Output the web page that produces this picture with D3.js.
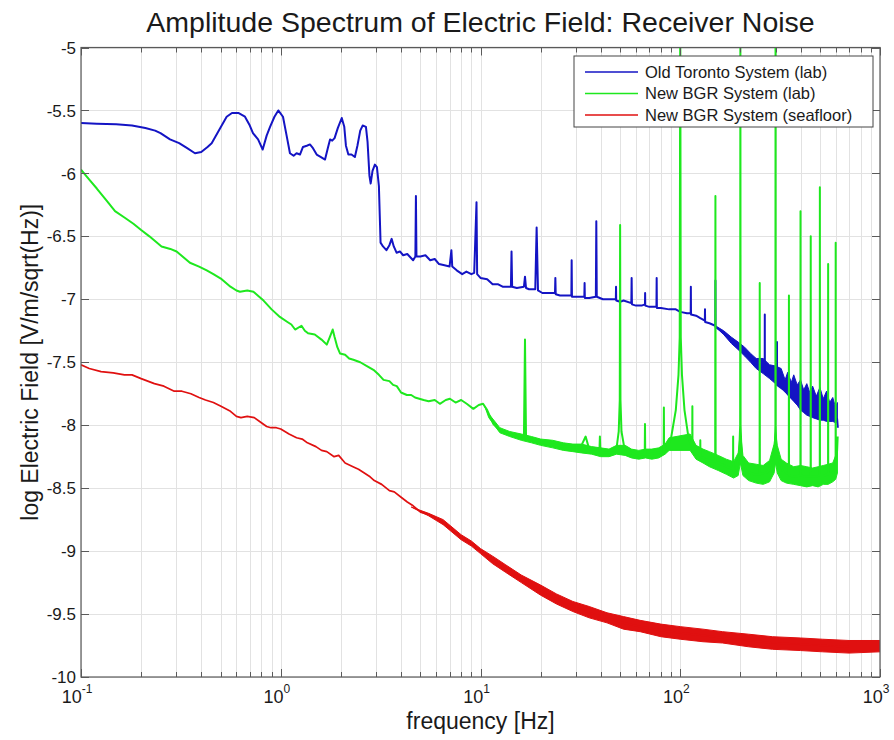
<!DOCTYPE html>
<html>
<head>
<meta charset="utf-8">
<script src="https://cdn.jsdelivr.net/npm/d3@7"></script>
<style>
  body { margin: 0; background: #fff; }
  text { font-family: "Liberation Sans", Arial, sans-serif; fill: #1a1a1a; }
</style>
</head>
<body>
<script>
// axis settings
var xDomain = [0.1, 1000];
var yDomain = [-10, -5];
var xDecades = [-1, 0, 1, 2, 3];
var yTicks = [-10, -9.5, -9, -8.5, -8, -7.5, -7, -6.5, -6, -5.5, -5];

var titleText = "Amplitude Spectrum of Electric Field: Receiver Noise";
var xLabel = "frequency [Hz]";
var yLabel = "log Electric Field [V/m/sqrt(Hz)]";
var seriesNames = ["Old Toronto System (lab)", "New BGR System (lab)", "New BGR System (seafloor)"];
var seriesColors = ["#1414c4", "#1ee81e", "#e01010"];

// Old Toronto System (lab): [freq, log E]
var torontoLine = [
  [0.1,-5.60],[0.12,-5.605],[0.15,-5.61],[0.18,-5.62],[0.21,-5.64],[0.235,-5.66],[0.25,-5.68],[0.279,-5.73],
  [0.31,-5.76],[0.34,-5.80],[0.372,-5.84],[0.40,-5.83],[0.43,-5.79],[0.451,-5.76],[0.49,-5.66],[0.536,-5.55],
  [0.57,-5.52],[0.613,-5.52],[0.662,-5.55],[0.70,-5.62],[0.726,-5.68],[0.77,-5.73],[0.812,-5.81],[0.85,-5.70],
  [0.884,-5.63],[0.93,-5.55],[0.972,-5.50],[1.026,-5.55],[1.07,-5.70],[1.112,-5.84],[1.16,-5.86],[1.20,-5.84],
  [1.248,-5.85],[1.292,-5.79],[1.35,-5.78],[1.40,-5.77],[1.45,-5.80],[1.513,-5.85],[1.59,-5.87],[1.666,-5.89],
  [1.72,-5.80],[1.765,-5.73],[1.81,-5.74],[1.86,-5.72],[1.93,-5.64],[2.02,-5.56],[2.08,-5.63],[2.12,-5.78],
  [2.18,-5.85],[2.26,-5.85],[2.35,-5.87],[2.42,-5.78],[2.50,-5.66],[2.57,-5.62],[2.67,-5.63],[2.72,-5.75],
  [2.78,-6.02],[2.82,-6.08],[2.88,-5.98],[2.96,-5.93],[3.03,-5.95],[3.10,-6.10],[3.16,-6.55],[3.25,-6.58],
  [3.38,-6.61],[3.5,-6.57],[3.59,-6.52],[3.68,-6.58],[3.8,-6.63],[3.95,-6.62],[4.1,-6.65],[4.3,-6.64],
  [4.6,-6.69],[4.72,-6.66],[4.75,-6.18],[4.78,-6.66],[5.0,-6.66],[5.3,-6.65],[5.6,-6.69],[5.9,-6.68],
  [6.2,-6.72],[6.6,-6.73],[7.0,-6.74],[7.15,-6.61],[7.22,-6.74],[7.6,-6.77],[8.1,-6.80],[8.5,-6.78],
  [9.0,-6.80],[9.3,-6.79],[9.55,-6.23],[9.62,-6.80],[10.0,-6.83],[10.8,-6.84],[11.5,-6.88],[12.2,-6.88],
  [12.9,-6.90],[14.2,-6.90],[14.3,-6.62],[14.4,-6.90],[15.2,-6.91],[16.5,-6.90],[16.7,-6.82],[16.9,-6.91],
  [17.5,-6.92],[18.8,-6.92],[19.1,-6.43],[19.4,-6.93],[20.4,-6.95],[22,-6.95],[23.6,-6.95],[23.7,-6.83],
  [23.8,-6.96],[25,-6.97],[27,-6.97],[28.5,-6.97],[28.6,-6.69],[28.7,-6.98],[30,-6.98],[33.1,-6.98],
  [33.2,-6.87],[33.3,-6.99],[35,-6.99],[37.8,-6.98],[38,-6.38],[38.2,-6.98],[41,-7.00],[44,-7.00],
  [47.6,-7.00],[47.7,-6.90],[47.8,-7.01],[50,-7.02],[52,-7.01],[56.9,-7.03],[57.1,-6.83],[57.3,-7.04],
  [60,-7.05],[64,-7.05],[66.6,-7.04],[66.7,-6.95],[66.8,-7.05],[70,-7.06],[76,-7.06],[76.2,-6.83],
  [76.4,-7.07],[80,-7.07],[88,-7.08],[95,-7.08],[100,-7.10],[108,-7.11],[112.8,-7.11],[113,-6.90],
  [113.2,-7.12],[120,-7.13],[126,-7.15],[132.8,-7.17],[133,-7.08],[133.2,-7.18],[140,-7.19],[149.8,-7.21],
  [150,-6.85],[150.2,-7.22],[160,-7.25],[170,-7.29],[180,-7.33],[190,-7.36],[200,-7.40],[210,-7.42],
  [220,-7.45],[235,-7.49],[250,-7.54],[264.8,-7.56],[265,-7.12],[265.2,-7.58],[280,-7.60],[304.8,-7.66],
  [305,-7.34],[305.2,-7.68],[330,-7.72],[350,-7.76],[370,-7.80],[400,-7.86],[425,-7.90],[460,-7.92],
  [500,-7.93],[536,-7.94],[580,-7.94],[610,-7.95],[615,-8.02]
];
// thick noisy part: [freq, lower, upper]
var torontoBand = [
  [150,-7.22,-7.21],[165,-7.28,-7.25],[180,-7.35,-7.30],[195,-7.40,-7.34],[210,-7.45,-7.38],[225,-7.50,-7.43],
  [240,-7.55,-7.47],[260,-7.59,-7.47],[280,-7.63,-7.52],[300,-7.67,-7.53],[320,-7.70,-7.55],[335,-7.73,-7.64],
  [345,-7.76,-7.58],[360,-7.79,-7.66],[370,-7.81,-7.60],[385,-7.84,-7.68],[400,-7.88,-7.64],[415,-7.90,-7.72],
  [430,-7.92,-7.67],[445,-7.93,-7.74],[460,-7.94,-7.69],[480,-7.95,-7.77],[500,-7.96,-7.70],[520,-7.96,-7.79],
  [540,-7.97,-7.73],[560,-7.97,-7.82],[580,-7.97,-7.78],[600,-7.98,-7.86],[612,-7.98,-7.82]
];

// New BGR System (lab)
var bgrLabLine = [
  [0.1,-5.97],[0.11,-6.05],[0.12,-6.12],[0.135,-6.22],[0.148,-6.30],[0.165,-6.35],[0.183,-6.40],[0.2,-6.45],
  [0.22,-6.50],[0.253,-6.58],[0.28,-6.60],[0.301,-6.62],[0.351,-6.71],[0.39,-6.74],[0.426,-6.77],[0.46,-6.80],
  [0.506,-6.84],[0.56,-6.90],[0.6,-6.93],[0.625,-6.94],[0.68,-6.93],[0.73,-6.94],[0.78,-6.98],[0.82,-7.01],
  [0.9,-7.08],[0.99,-7.14],[1.08,-7.18],[1.13,-7.20],[1.18,-7.24],[1.27,-7.21],[1.32,-7.25],[1.37,-7.27],
  [1.48,-7.28],[1.60,-7.32],[1.70,-7.36],[1.76,-7.30],[1.82,-7.24],[1.86,-7.30],[1.92,-7.38],[1.98,-7.43],
  [2.1,-7.44],[2.2,-7.47],[2.31,-7.48],[2.5,-7.50],[2.7,-7.53],[2.91,-7.56],[3.1,-7.60],[3.27,-7.64],
  [3.5,-7.65],[3.65,-7.68],[3.81,-7.69],[4.0,-7.74],[4.28,-7.76],[4.5,-7.76],[4.7,-7.78],[5.19,-7.80],
  [5.5,-7.81],[5.9,-7.80],[6.26,-7.83],[6.7,-7.80],[7.03,-7.79],[7.5,-7.82],[8.0,-7.80],[8.53,-7.83],
  [9.21,-7.87],[9.8,-7.84],[10.3,-7.83],[10.8,-7.88],[11.6,-7.99],[12.5,-8.04],[13.4,-8.06],[14.5,-8.08],
  [16.5,-8.09],[16.7,-7.32],[16.9,-8.10],[19.8,-8.13],[22,-8.15],[26.1,-8.17],[31.6,-8.18],[33.6,-8.09],
  [35,-8.19],[39.4,-8.20],[39.6,-8.09],[39.8,-8.21],[46.4,-8.22],[48,-8.18],[49.2,-8.05],[49.8,-7.80],
  [50,-6.41],[50.2,-7.80],[50.8,-8.05],[52.5,-8.18],[57,-8.22],[60,-8.24],[66.4,-8.23],[66.6,-7.99],
  [66.8,-8.23],[70,-8.23],[76,-8.22],[82.6,-8.21],[82.8,-7.86],[83,-8.20],[86,-8.17],[90,-8.10],
  [95,-7.88],[98,-7.60],[99.4,-7.30],[100,-4.6],[100.6,-7.30],[102,-7.60],[105,-7.88],[110,-8.10],
  [114.8,-8.18],[115,-7.85],[115.2,-8.20],[120,-8.21],[125.8,-8.24],[126,-8.12],[126.2,-8.25],[134,-8.27],
  [145,-8.29],[149.6,-8.28],[150,-6.18],[150.4,-8.29],[166,-8.32],[183.8,-8.35],[184,-8.09],[184.2,-8.36],
  [190,-8.36],[197,-8.25],[199.5,-8.00],[200,-4.6],[200.5,-8.00],[203,-8.25],[215,-8.37],[235,-8.39],
  [249.6,-8.39],[250,-6.87],[250.4,-8.39],[275,-8.37],[297,-8.22],[299.5,-8.00],[300,-4.6],[300.5,-8.00],
  [303,-8.22],[325,-8.36],[349.6,-8.39],[350,-6.97],[350.4,-8.40],[375,-8.41],[399.5,-8.40],[400,-6.30],
  [400.5,-8.40],[425,-8.41],[449.5,-8.41],[450,-6.50],[450.5,-8.41],[475,-8.41],[499.5,-8.40],[500,-6.11],
  [500.5,-8.40],[525,-8.40],[549.5,-8.39],[550,-6.72],[550.5,-8.39],[575,-8.38],[599.5,-8.35],[600,-6.55],
  [600.5,-8.33],[610,-8.20],[614,-8.09]
];
var bgrLabBand = [
  [10.5,-7.85,-7.85],[11,-7.94,-7.91],[12.5,-8.06,-8.02],[14,-8.09,-8.05],[16,-8.12,-8.07],[18,-8.14,-8.09],
  [20,-8.16,-8.11],[23,-8.18,-8.12],[26,-8.20,-8.14],[29,-8.21,-8.15],[32,-8.22,-8.15],[36,-8.23,-8.17],
  [40,-8.25,-8.18],[44,-8.25,-8.19],[48,-8.23,-8.16],[53,-8.24,-8.16],[57,-8.26,-8.19],[62,-8.27,-8.20],
  [67,-8.26,-8.19],[72,-8.27,-8.19],[78,-8.26,-8.18],[84,-8.23,-8.15],[88,-8.20,-8.10],[112,-8.20,-8.07],
  [120,-8.27,-8.16],[130,-8.30,-8.19],[140,-8.33,-8.21],[155,-8.36,-8.24],[170,-8.39,-8.27],[185,-8.42,-8.29],
  [195,-8.40,-8.22],[200,-8.30,-8.05],[206,-8.40,-8.24],[220,-8.44,-8.30],[240,-8.46,-8.31],[260,-8.47,-8.32],
  [280,-8.45,-8.28],[295,-8.38,-8.15],[300,-8.30,-8.05],[306,-8.38,-8.16],[320,-8.44,-8.27],[340,-8.46,-8.30],
  [370,-8.47,-8.33],[400,-8.48,-8.32],[430,-8.49,-8.33],[460,-8.48,-8.34],[490,-8.49,-8.33],[520,-8.47,-8.32],
  [550,-8.47,-8.31],[580,-8.45,-8.30],[600,-8.43,-8.24],[612,-8.38,-8.10]
];

// New BGR System (seafloor)
var bgrSeaLine = [
  [0.1,-7.52],[0.11,-7.55],[0.126,-7.575],[0.145,-7.585],[0.165,-7.60],[0.18,-7.60],[0.2,-7.63],[0.233,-7.67],
  [0.26,-7.69],[0.293,-7.73],[0.32,-7.73],[0.355,-7.75],[0.39,-7.78],[0.42,-7.80],[0.46,-7.82],[0.502,-7.85],
  [0.56,-7.89],[0.6,-7.93],[0.632,-7.94],[0.68,-7.93],[0.737,-7.94],[0.8,-7.98],[0.85,-8.01],[0.893,-8.02],
  [0.95,-8.02],[1.0,-8.03],[1.1,-8.07],[1.2,-8.10],[1.28,-8.11],[1.36,-8.14],[1.5,-8.17],[1.6,-8.20],
  [1.7,-8.21],[1.85,-8.25],[1.95,-8.24],[2.1,-8.30],[2.3,-8.33],[2.45,-8.35],[2.62,-8.38],[2.8,-8.41],
  [2.94,-8.44],[3.2,-8.47],[3.5,-8.52],[3.7,-8.53],[3.99,-8.57],[4.3,-8.61],[4.6,-8.64],[5.01,-8.69],
  [5.5,-8.71],[6.0,-8.74],[6.55,-8.77],[7.2,-8.82],[8.0,-8.89],[9,-8.94],[10,-9.00],[11.5,-9.07],
  [13.4,-9.14],[16,-9.22],[19.8,-9.31],[24,-9.38],[29,-9.44],[35,-9.49],[42.7,-9.53],[52,-9.57],
  [62.9,-9.60],[80,-9.63],[100,-9.65],[130,-9.67],[163,-9.69],[220,-9.71],[290,-9.73],[400,-9.74],
  [516,-9.75],[700,-9.76],[1000,-9.76]
];
var bgrSeaBand = [
  [4.5,-8.65,-8.65],[5.5,-8.72,-8.70],[6.5,-8.79,-8.75],[8,-8.91,-8.87],[9,-8.96,-8.92],[10,-9.02,-8.98],
  [11.5,-9.10,-9.04],[13.4,-9.17,-9.11],[16,-9.25,-9.19],[20,-9.35,-9.27],[24,-9.42,-9.34],[29,-9.48,-9.40],
  [35,-9.53,-9.44],[43,-9.57,-9.49],[52,-9.62,-9.52],[63,-9.64,-9.55],[80,-9.68,-9.58],[100,-9.70,-9.60],
  [130,-9.72,-9.62],[163,-9.73,-9.64],[220,-9.76,-9.66],[290,-9.78,-9.68],[400,-9.79,-9.69],[516,-9.80,-9.70],
  [700,-9.81,-9.71],[1000,-9.80,-9.71]
];

var seriesLines = [torontoLine, bgrLabLine, bgrSeaLine];
var seriesBands = [torontoBand, bgrLabBand, bgrSeaBand];
var seriesWidths = [2, 2, 1.7];

var width = 894, height = 740;
var pLeft = 81, pRight = 880, pTop = 47.5, pBottom = 677;

var svg = d3.select("body").append("svg")
  .attr("width", width)
  .attr("height", height);

var x = d3.scaleLog().domain(xDomain).range([pLeft, pRight]);
var y = d3.scaleLinear().domain(yDomain).range([pBottom, pTop]);

// minor positions: 1..9 in every decade
var xMinor = [];
xDecades.slice(0, -1).forEach(function(e) {
  for (var k = 1; k <= 9; k++) xMinor.push(k * Math.pow(10, e));
});
xMinor.push(1000);

/* grid */
var grid = svg.append("g").attr("class", "grid");
grid.selectAll("line.gx")
  .data(xMinor)
  .enter().append("line")
    .attr("class", "gx")
    .attr("x1", function(d) { return Math.round(x(d)) + 0.5; })
    .attr("x2", function(d) { return Math.round(x(d)) + 0.5; })
    .attr("y1", pTop)
    .attr("y2", pBottom)
    .style("stroke", "#e2e2e2")
    .style("stroke-width", 1);
grid.selectAll("line.gy")
  .data(yTicks)
  .enter().append("line")
    .attr("class", "gy")
    .attr("x1", pLeft)
    .attr("x2", pRight)
    .attr("y1", function(d) { return Math.round(y(d)) + 0.5; })
    .attr("y2", function(d) { return Math.round(y(d)) + 0.5; })
    .style("stroke", "#e2e2e2")
    .style("stroke-width", 1);

/* data */
svg.append("clipPath")
  .attr("id", "plotclip")
  .append("rect")
    .attr("x", pLeft)
    .attr("y", pTop)
    .attr("width", pRight - pLeft)
    .attr("height", pBottom - pTop);

var plot = svg.append("g").attr("clip-path", "url(#plotclip)");

var line = d3.line()
  .x(function(d) { return x(d[0]); })
  .y(function(d) { return y(d[1]); });

var band = d3.area()
  .x(function(d) { return x(d[0]); })
  .y0(function(d) { return y(d[1]); })
  .y1(function(d) { return y(d[2]); });

seriesLines.forEach(function(data, i) {
  plot.append("path")
    .datum(seriesBands[i])
    .attr("d", band)
    .style("fill", seriesColors[i])
    .style("stroke", seriesColors[i])
    .style("stroke-width", 1);
  plot.append("path")
    .datum(data)
    .attr("d", line)
    .style("fill", "none")
    .style("stroke", seriesColors[i])
    .style("stroke-width", seriesWidths[i])
    .style("stroke-linejoin", "round");
});

/* axes box and ticks */
var axes = svg.append("g").attr("class", "axes");
axes.append("rect")
  .attr("x", pLeft)
  .attr("y", pTop)
  .attr("width", pRight - pLeft)
  .attr("height", pBottom - pTop)
  .style("fill", "none")
  .style("stroke", "#5a5a5a")
  .style("stroke-width", 1.2);

function tickLen(d) {
  var e = Math.log10(d);
  return Math.abs(e - Math.round(e)) < 1e-9 ? 8 : 5;
}
[pBottom, pTop].forEach(function(yy, j) {
  axes.selectAll(null)
    .data(xMinor)
    .enter().append("line")
      .attr("x1", function(d) { return Math.round(x(d)) + 0.5; })
      .attr("x2", function(d) { return Math.round(x(d)) + 0.5; })
      .attr("y1", yy)
      .attr("y2", function(d) { return j === 0 ? yy - tickLen(d) : yy + tickLen(d); })
      .style("stroke", "#5a5a5a")
      .style("stroke-width", 1);
});
[pLeft, pRight].forEach(function(xx, j) {
  axes.selectAll(null)
    .data(yTicks)
    .enter().append("line")
      .attr("x1", xx)
      .attr("x2", j === 0 ? xx + 8 : xx - 8)
      .attr("y1", function(d) { return Math.round(y(d)) + 0.5; })
      .attr("y2", function(d) { return Math.round(y(d)) + 0.5; })
      .style("stroke", "#5a5a5a")
      .style("stroke-width", 1);
});

// y tick labels
axes.selectAll("text.ylab")
  .data(yTicks)
  .enter().append("text")
    .attr("class", "ylab")
    .attr("x", pLeft - 5)
    .attr("y", function(d) { return y(d); })
    .attr("dy", "0.36em")
    .attr("text-anchor", "end")
    .style("font-size", "17px")
    .text(function(d) { return String(d); });

// x tick labels 10^n
var xl = axes.selectAll("text.xlab")
  .data(xDecades)
  .enter().append("text")
    .attr("class", "xlab")
    .attr("x", function(d) { return x(Math.pow(10, d)) - 4; })
    .attr("y", 703)
    .attr("text-anchor", "middle")
    .style("font-size", "18px");
xl.append("tspan").text("10");
xl.append("tspan")
  .attr("dy", -10)
  .style("font-size", "12px")
  .text(function(d) { return String(d); });

/* titles */
svg.append("text")
  .attr("x", (pLeft + pRight) / 2)
  .attr("y", 32)
  .attr("text-anchor", "middle")
  .style("font-size", "28.5px")
  .text(titleText);

svg.append("text")
  .attr("x", (pLeft + pRight) / 2)
  .attr("y", 729)
  .attr("text-anchor", "middle")
  .style("font-size", "23px")
  .text(xLabel);

svg.append("text")
  .attr("transform", "translate(38," + ((pTop + pBottom) / 2) + ") rotate(-90)")
  .attr("text-anchor", "middle")
  .style("font-size", "23px")
  .text(yLabel);

/* legend */
var legend = svg.append("g").attr("class", "legend");
legend.append("rect")
  .attr("x", 574)
  .attr("y", 56)
  .attr("width", 299)
  .attr("height", 71)
  .style("fill", "#fff")
  .style("stroke", "#444")
  .style("stroke-width", 1);
var rows = legend.selectAll("g.row")
  .data(seriesNames)
  .enter().append("g")
    .attr("class", "row")
    .attr("transform", function(d, i) { return "translate(0," + (72 + i * 21.5) + ")"; });
rows.append("line")
  .attr("x1", 585)
  .attr("x2", 638)
  .style("stroke", function(d, i) { return seriesColors[i]; })
  .style("stroke-width", 1.5);
rows.append("text")
  .attr("x", 645)
  .attr("dy", "0.36em")
  .style("font-size", "16.5px")
  .text(function(d) { return d; });
</script>
</body>
</html>
